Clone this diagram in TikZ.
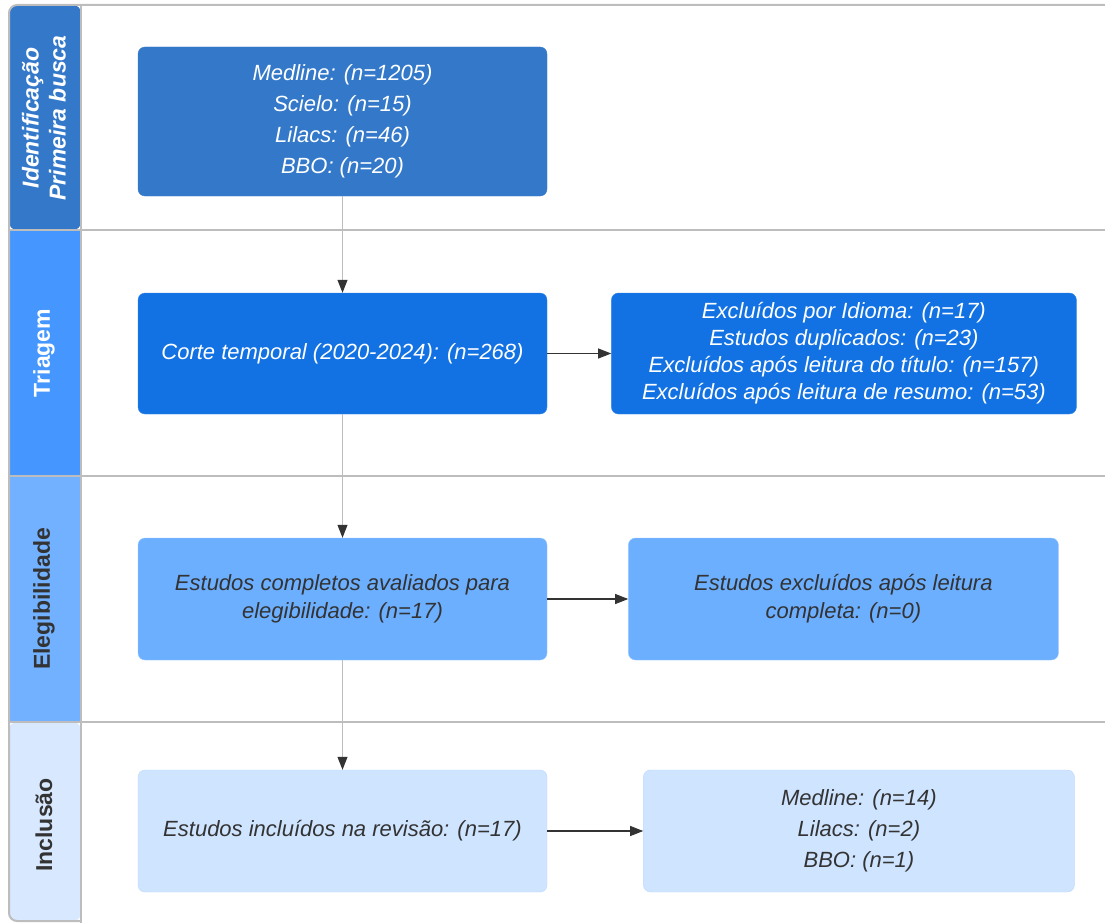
\documentclass[tikz,border=0pt]{standalone}
\usepackage{fontspec}
\setmainfont{Liberation Sans}
\usetikzlibrary{arrows.meta, positioning}
\definecolor{laneA}{HTML}{3479C9}
\definecolor{laneB}{HTML}{4597FF}
\definecolor{laneC}{HTML}{72B1FF}
\definecolor{laneD}{HTML}{D7E8FF}
\definecolor{boxA}{HTML}{3479C9}
\definecolor{boxB}{HTML}{1272E3}
\definecolor{boxC}{HTML}{6CAFFF}
\definecolor{boxD}{HTML}{CFE4FF}
\definecolor{ink}{HTML}{333333}
\definecolor{frame}{HTML}{BDBDBD}
\tikzstyle{stage} = [rectangle, rounded corners=7pt, inner sep=0pt, align=center, font=\fontsize{22}{31}\selectfont\itshape]
\tikzstyle{sA} = [stage, fill=boxA, draw=boxA, text=white]
\tikzstyle{sB} = [stage, fill=boxB, draw=boxB!85!white, text=white]
\tikzstyle{sC} = [stage, fill=boxC, draw=boxC!70!white, text=ink]
\tikzstyle{sD} = [stage, fill=boxD, draw=boxD!80!boxC, text=ink]
\tikzstyle{lanetxt} = [rotate=90, align=center, font=\fontsize{23}{27}\selectfont\bfseries]
\tikzstyle{arrow} = [draw=ink, line width=1.1pt, -{Triangle[length=13pt, width=10pt]}]
\tikzstyle{varrow} = [draw=frame, line width=1.1pt, -{Triangle[length=13pt, width=10pt, color=ink]}]

\begin{document}
\begin{tikzpicture}[x=1pt, y=-1pt]
  \useasboundingbox (0,0) rectangle (1105,923);

  % lanes
  \fill[laneA, rounded corners=8pt] (81,230) -- (9,230) -- (9,5) -- (81,5) -- cycle;
  \fill[laneB] (9,230) rectangle (81,476);
  \fill[laneC] (9,476) rectangle (81,722);
  \fill[laneD, rounded corners=8pt] (81,722) -- (9,722) -- (9,921) -- (81,921) -- cycle;
  \draw[frame, line width=2pt, rounded corners=8pt] (81,921) -- (9,921) -- (9,5) -- (1105,5);
  \draw[frame, line width=2pt] (81,5) -- (81,923);
  \draw[frame, line width=2pt] (9,230) -- (1105,230);
  \draw[frame, line width=2pt] (9,476) -- (1105,476);
  \draw[frame, line width=2pt] (9,722) -- (1105,722);

  \node[lanetxt, text=white] (ident) at (44,118) {\itshape Identificação\\\itshape Primeira busca};
  \node[lanetxt, text=white] (triagem) at (44,353) {Triagem};
  \node[lanetxt, text=ink] (elegib) at (44,599) {Elegibilidade};
  \node[lanetxt, text=ink] (inclus) at (44,825) {Inclusão};

  % boxes
  \node[sA, minimum width=409pt, minimum height=149pt] (busca) at (342.5,121.5)
    {Medline: (n=1205)\\Scielo: (n=15)\\Lilacs: (n=46)\\BBO: (n=20)};
  \node[sB, minimum width=409pt, minimum height=121pt] (corte) at (342.5,353.5)
    {Corte temporal (2020-2024): (n=268)};
  \node[sB, minimum width=465pt, minimum height=121pt, right=64pt of corte] (excl)
    {Excluídos por Idioma: (n=17)\\[-4pt]Estudos duplicados: (n=23)\\[-4pt]Excluídos após leitura do título: (n=157)\\[-4pt]Excluídos após leitura de resumo: (n=53)};
  \node[sC, minimum width=409pt, minimum height=122pt] (completos) at (342.5,599)
    {Estudos completos avaliados para\\[-3pt]elegibilidade: (n=17)};
  \node[sC, minimum width=430pt, minimum height=122pt, right=81pt of completos] (exclcomp)
    {Estudos excluídos após leitura\\[-3pt]completa: (n=0)};
  \node[sD, minimum width=409pt, minimum height=122pt] (incluidos) at (342.5,831)
    {Estudos incluídos na revisão: (n=17)};
  \node[sD, minimum width=431pt, minimum height=122pt, right=96pt of incluidos] (bases)
    {Medline: (n=14)\\Lilacs: (n=2)\\BBO: (n=1)};

  \draw[varrow] (busca) -- (corte);
  \draw[varrow] (corte) -- (completos);
  \draw[varrow] (completos) -- (incluidos);
  \draw[arrow] (corte) -- (excl);
  \draw[arrow] (completos) -- (exclcomp);
  \draw[arrow] (incluidos) -- (bases);

\end{tikzpicture}
\end{document}
